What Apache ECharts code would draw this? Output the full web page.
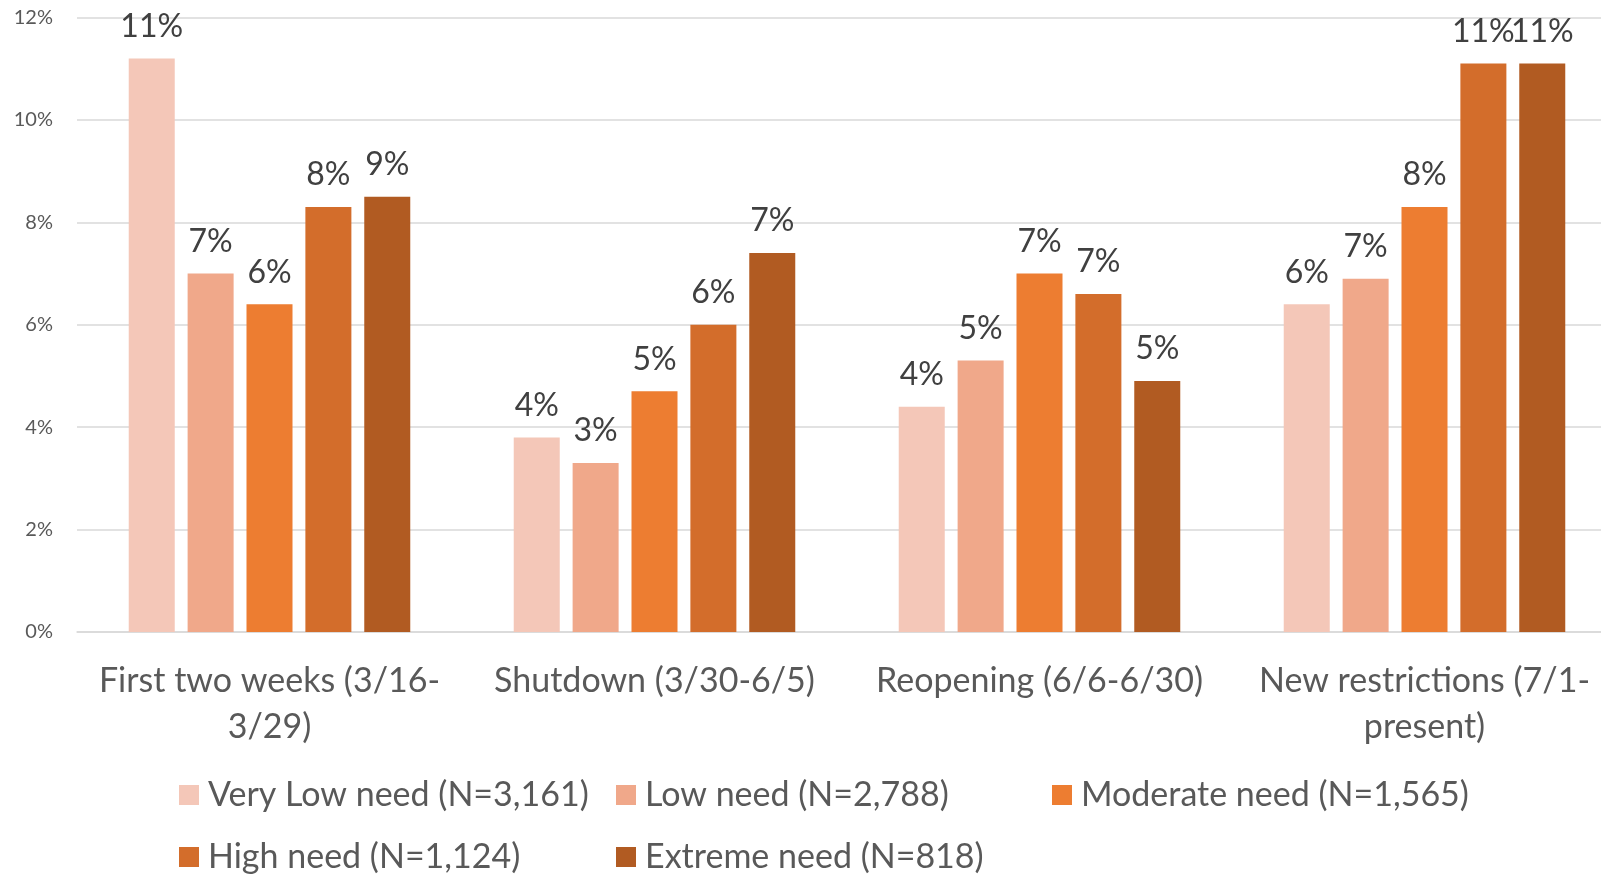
<!DOCTYPE html>
<html>
<head>
<meta charset="utf-8">
<script src="https://cdn.jsdelivr.net/npm/echarts@6/dist/echarts.min.js"></script>
<style>
  html, body { margin: 0; padding: 0; background: #fff; }
  #chart { width: 1601px; height: 875px; }
</style>
</head>
<body>
<div id="chart"></div>
<script>
// categories (line breaks as in the original axis labels)
var categories = [
  'First two weeks (3/16-\n3/29)',
  'Shutdown (3/30-6/5)',
  'Reopening (6/6-6/30)',
  'New restrictions (7/1-\npresent)'
];

// percent values per need group
var veryLow  = [11.2, 3.8, 4.4, 6.4];
var low      = [7.0, 3.3, 5.3, 6.9];
var moderate = [6.4, 4.7, 7.0, 8.3];
var high     = [8.3, 6.0, 6.6, 11.1];
var extreme  = [8.5, 7.4, 4.9, 11.1];

var seriesNames = [
  'Very Low need (N=3,161)',
  'Low need (N=2,788)',
  'Moderate need (N=1,565)',
  'High need (N=1,124)',
  'Extreme need (N=818)'
];
var seriesData = [veryLow, low, moderate, high, extreme];
var colors = ['#F4C7B8', '#F0A88A', '#ED7D31', '#D36D2B', '#B15B22'];

var FONT = 'Lato';

// legend laid out in columns like the Excel legend
var legendSpots = [
  {left: 179, top: 775}, {left: 616, top: 775}, {left: 1052, top: 775},
  {left: 179, top: 837}, {left: 616, top: 837}
];

var legends = seriesNames.map(function(name, i){
  return {
    data: [name],
    left: legendSpots[i].left,
    top: legendSpots[i].top,
    padding: 0,
    icon: 'rect',
    itemWidth: 20,
    itemHeight: 20,
    itemGap: 0,
    selectedMode: false,
    textStyle: {
      fontFamily: FONT,
      fontSize: 34,
      color: '#595959',
      lineHeight: 40,
      padding: [0, 0, 0, 4]
    }
  };
});

var series = seriesNames.map(function(name, i){
  return {
    name: name,
    type: 'bar',
    data: seriesData[i],
    barWidth: 46,
    barGap: '28%',
    itemStyle: { color: colors[i] },
    label: {
      show: true,
      position: 'top',
      distance: 16,
      fontFamily: FONT,
      fontSize: 32,
      color: '#404040',
      formatter: function(p){ return Math.round(p.value) + '%'; }
    }
  };
});

var chart = echarts.init(document.getElementById('chart'));
var option = {
  animation: false,
  backgroundColor: '#fff',
  legend: legends,
  // the plot runs a little past the right edge of the picture, as in the original
  grid: {
    left: 77, width: 1540, top: 17.5, bottom: 243,
    containLabel: false,
    outerBoundsMode: 'none'
  },
  xAxis: {
    type: 'category',
    data: categories,
    axisTick: { show: false },
    axisLine: { lineStyle: { color: '#D9D9D9', width: 1.5 } },
    axisLabel: {
      fontFamily: FONT,
      fontSize: 34,
      lineHeight: 46,
      color: '#595959',
      margin: 26,
      interval: 0
    }
  },
  yAxis: {
    type: 'value',
    min: 0,
    max: 12,
    interval: 2,
    axisLine: { show: false },
    axisTick: { show: false },
    splitLine: { lineStyle: { color: '#D9D9D9', width: 1.5 } },
    axisLabel: {
      fontFamily: FONT,
      fontSize: 20,
      color: '#595959',
      margin: 24,
      formatter: '{value}%'
    }
  },
  series: series
};
chart.setOption(option);
</script>
</body>
</html>
